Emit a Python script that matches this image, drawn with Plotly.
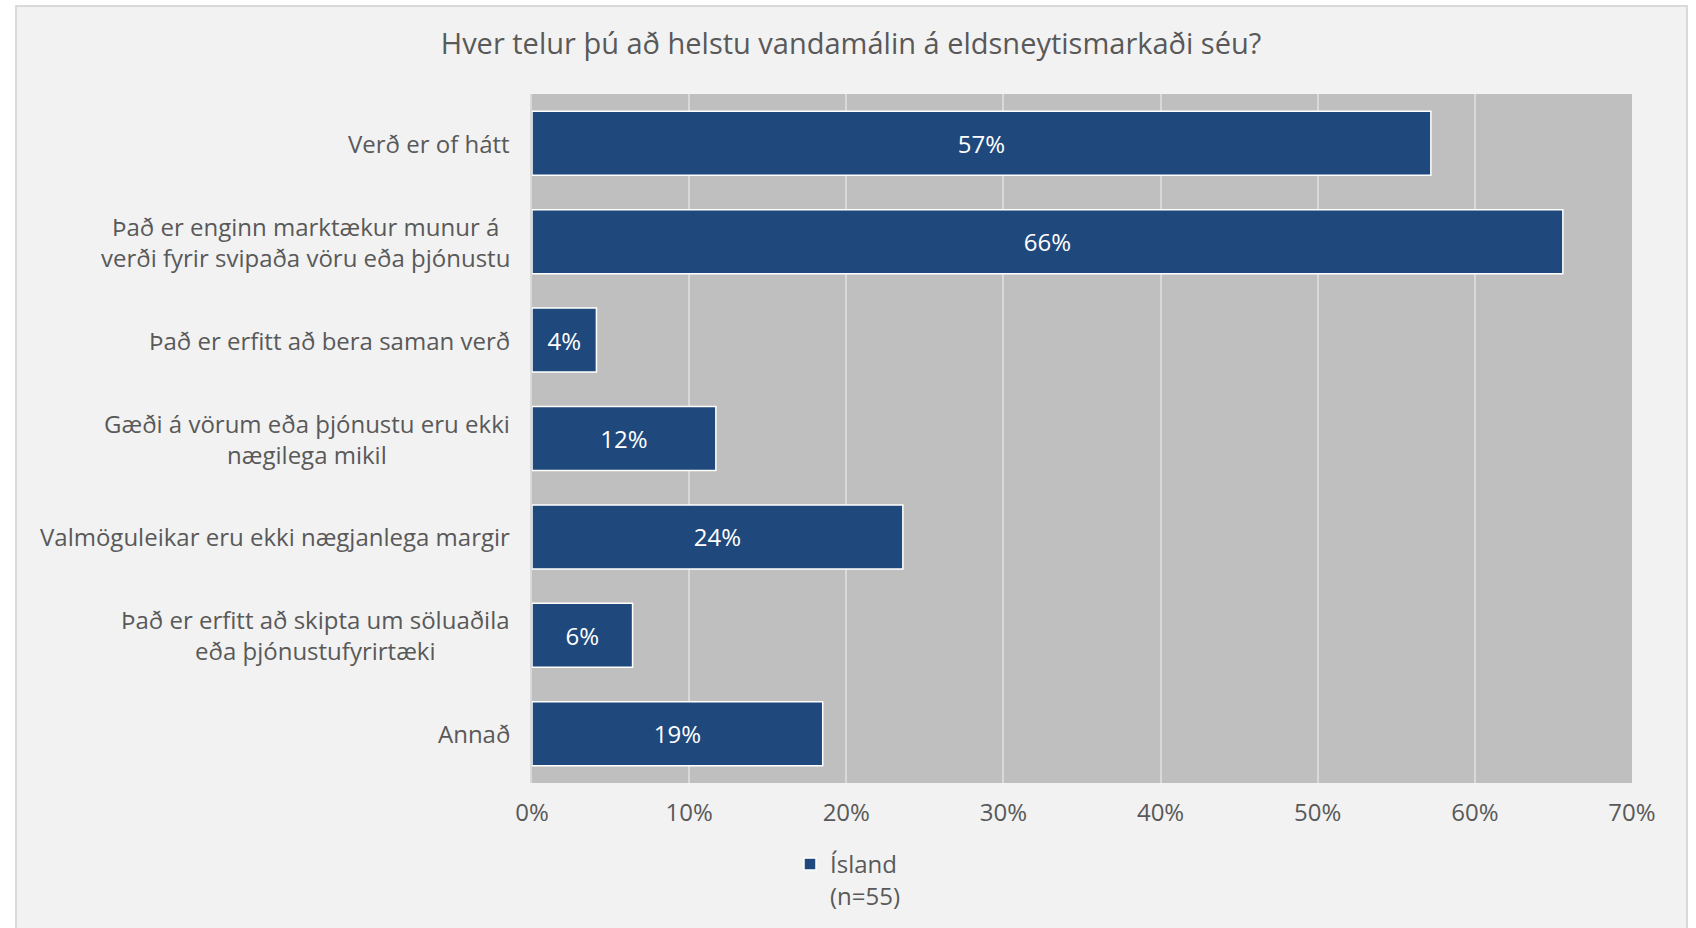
import plotly.graph_objects as go

# answers and share of respondents (%)
categories = [
    "Verð er of hátt",
    "Það er enginn marktækur munur á<br>verði fyrir svipaða vöru eða þjónustu",
    "Það er erfitt að bera saman verð",
    "Gæði á vörum eða þjónustu eru ekki<br>nægilega mikil",
    "Valmöguleikar eru ekki nægjanlega margir",
    "Það er erfitt að skipta um söluaðila<br>eða þjónustufyrirtæki",
    "Annað",
]
values = [57.2, 65.6, 4.1, 11.7, 23.6, 6.4, 18.5]
series_name = "Ísland<br>(n=55)"
title_text = "Hver telur þú að helstu vandamálin á eldsneytismarkaði séu?"
x_ticks = [0, 10, 20, 30, 40, 50, 60, 70]
x_tick_labels = [f"{t}%" for t in x_ticks]

W, H = 1696, 928
L, R, T, B = 532, 64, 94, 145
FONT = "Open Sans"
TXT = "#595959"
BAR = "#1F497D"


def px_x(px):
    return (px - L) / (W - L - R)


def px_y(py):
    return (H - B - py) / (H - T - B)


fig = go.Figure()
fig.add_trace(
    go.Bar(
        x=values,
        y=categories,
        orientation="h",
        name=series_name,
        marker=dict(color=BAR, line=dict(color="white", width=1.5)),
        texttemplate="%{x:.0f}%",
        textposition="inside",
        insidetextanchor="middle",
        textangle=0,
        constraintext="none",
        textfont=dict(family=FONT, size=24, color="white"),
        showlegend=True,
    )
)

# category labels as annotations so wrapped lines are centred like the original
for cat in categories:
    fig.add_annotation(
        x=px_x(512),
        xref="paper",
        y=cat,
        yref="y",
        text=cat,
        showarrow=False,
        xanchor="right",
        yanchor="middle",
        align="center",
        font=dict(family=FONT, size=24, color=TXT),
    )

# chart frame and plot background
fig.add_shape(
    type="rect", xref="paper", yref="paper",
    x0=px_x(16), x1=px_x(1687), y0=px_y(H + 20), y1=px_y(6),
    fillcolor="#F2F2F2", line=dict(color="#D9D9D9", width=2), layer="below",
)
fig.add_shape(
    type="rect", xref="x domain", yref="y domain",
    x0=0, x1=1, y0=0, y1=1,
    fillcolor="#BFBFBF", line=dict(width=0), layer="below",
)

fig.update_layout(
    width=W,
    height=H,
    margin=dict(l=L, r=R, t=T, b=B, autoexpand=False),
    paper_bgcolor="white",
    plot_bgcolor="rgba(0,0,0,0)",
    font=dict(family=FONT, size=24, color=TXT),
    title=dict(
        text=title_text,
        xref="container", yref="container",
        x=851 / W, y=1 - 43.5 / H,
        xanchor="center", yanchor="middle",
        font=dict(family=FONT, size=29, color=TXT),
    ),
    bargap=0.35,
    showlegend=True,
    legend=dict(
        xref="container", yref="container",
        x=790 / W, y=1 - 842 / H,
        xanchor="left", yanchor="top",
        valign="top",
        bgcolor="rgba(0,0,0,0)",
        font=dict(family=FONT, size=24, color=TXT),
    ),
)
fig.update_xaxes(
    range=[0, 70],
    tickvals=x_ticks,
    ticktext=x_tick_labels,
    showgrid=True,
    gridcolor="#D9D9D9",
    gridwidth=1.5,
    zeroline=False,
    showline=False,
    ticks="outside",
    ticklen=8,
    tickcolor="rgba(0,0,0,0)",
    tickfont=dict(family=FONT, size=24, color=TXT),
    fixedrange=True,
)
fig.update_yaxes(
    autorange="reversed",
    showticklabels=False,
    showgrid=False,
    zeroline=False,
    showline=True,
    linecolor="#D9D9D9",
    linewidth=1.5,
    fixedrange=True,
)

# drop the default 8px body margin so the figure sits at the page origin
fig.write_html(
    "out.html",
    config={"displayModeBar": False},
    post_script="document.body.style.margin='0';",
)
